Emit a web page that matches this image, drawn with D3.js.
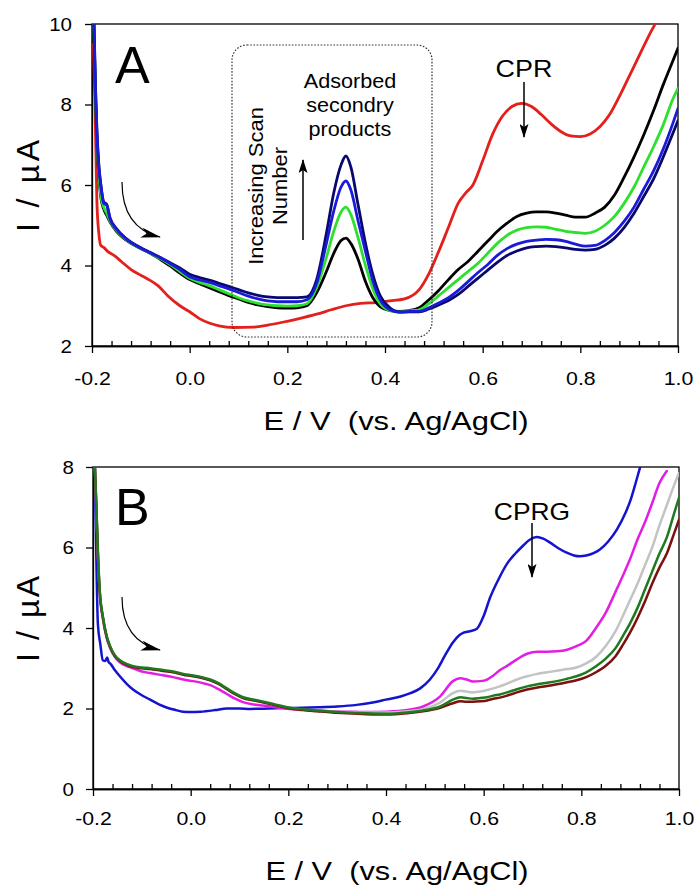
<!DOCTYPE html>
<html lang="en">
<head>
<meta charset="utf-8">
<script src="https://d3js.org/d3.v7.min.js"></script>
<style>
body { margin: 0; background: #fff; }
svg text { font-family: "Liberation Sans", Arial, sans-serif; fill: #000; }
.axis path, .axis line { stroke: #000; stroke-width: 1.3; }
.axis text { font-size: 19px; }
.frame { fill: none; stroke: #000; stroke-width: 1.3; }
.curve { fill: none; stroke-linejoin: round; stroke-linecap: round; }
</style>
</head>
<body>
<div id="chart"></div>
<script>
// ---------- panel A : CPR, repeated scans ----------
var aGroupE = [-0.197, -0.193, -0.19, -0.186, -0.182, -0.176, -0.17, -0.163, -0.15, -0.13, -0.1, -0.08, -0.06, -0.04, -0.02,
  0.0, 0.02, 0.04, 0.06, 0.08, 0.1, 0.12, 0.14, 0.16, 0.18, 0.2, 0.22,
  0.24, 0.26, 0.28, 0.295, 0.31, 0.32, 0.33, 0.345, 0.36, 0.375, 0.39, 0.41, 0.43, 0.45,
  0.47, 0.49, 0.51, 0.53, 0.55, 0.57, 0.59, 0.61, 0.63, 0.65, 0.67, 0.69, 0.71, 0.73, 0.75, 0.77, 0.79, 0.81, 0.83, 0.85, 0.87, 0.89, 0.91, 0.93, 0.95, 0.97, 0.99, 1.0];
var aBlack = [10.3, 8.2, 7.1, 6.2, 5.7, 5.4, 5.25, 5.08, 4.85, 4.63, 4.42, 4.3, 4.15, 3.99, 3.81,
  3.65, 3.55, 3.45, 3.35, 3.25, 3.17, 3.08, 3.02, 2.98, 2.95, 2.94, 2.95,
  3.0, 3.32, 3.85, 4.3, 4.62, 4.68, 4.55, 4.15, 3.6, 3.2, 2.98, 2.88, 2.86, 2.88,
  2.95, 3.15, 3.38, 3.65, 3.9, 4.1, 4.35, 4.6, 4.85, 5.05, 5.22, 5.3, 5.33, 5.33, 5.3, 5.25, 5.2, 5.2, 5.3, 5.45, 5.75, 6.2, 6.7, 7.25, 7.85, 8.5, 9.1, 9.4];
var aGreen = [10.4, 8.3, 7.2, 6.3, 5.75, 5.45, 5.3, 5.1, 4.87, 4.64, 4.42, 4.3, 4.17, 4.02, 3.85,
  3.68, 3.58, 3.5, 3.4, 3.3, 3.2, 3.12, 3.06, 3.02, 3.0, 2.99, 3.0,
  3.05, 3.45, 4.2, 4.85, 5.33, 5.45, 5.27, 4.68, 4.0, 3.42, 3.05, 2.88, 2.85, 2.87,
  2.9, 3.05, 3.25, 3.45, 3.65, 3.85, 4.05, 4.3, 4.55, 4.75, 4.88, 4.94, 4.96, 4.95, 4.9, 4.85, 4.82, 4.8, 4.85, 5.0, 5.22, 5.55, 5.95, 6.45, 6.95, 7.5, 8.15, 8.4];
var aBlue = [10.6, 8.4, 7.3, 6.45, 6.0, 5.55, 5.5, 5.16, 4.9, 4.66, 4.43, 4.31, 4.19, 4.05, 3.9,
  3.72, 3.64, 3.58, 3.5, 3.42, 3.33, 3.24, 3.17, 3.12, 3.1, 3.1, 3.1,
  3.15, 3.55, 4.55, 5.35, 5.95, 6.1, 5.88, 5.1, 4.35, 3.62, 3.15, 2.9, 2.84, 2.86,
  2.86, 2.95, 3.07, 3.2, 3.38, 3.6, 3.82, 4.02, 4.25, 4.42, 4.53, 4.6, 4.63, 4.65, 4.64, 4.6, 4.53, 4.48, 4.5, 4.62, 4.82, 5.1, 5.45, 5.9, 6.35, 6.9, 7.55, 7.9];
var aNavy = [10.6, 8.5, 7.4, 6.5, 6.02, 5.58, 5.52, 5.18, 4.92, 4.67, 4.44, 4.32, 4.2, 4.07, 3.94,
  3.78, 3.7, 3.64, 3.56, 3.48, 3.4, 3.32, 3.26, 3.22, 3.2, 3.2, 3.2,
  3.22, 3.65, 4.8, 5.8, 6.5, 6.72, 6.45, 5.5, 4.55, 3.78, 3.25, 2.95, 2.84, 2.85,
  2.85, 2.92, 3.02, 3.13, 3.28, 3.48, 3.68, 3.88, 4.08, 4.25, 4.36, 4.44, 4.47, 4.48, 4.47, 4.44, 4.4, 4.38, 4.4, 4.5, 4.68, 4.95, 5.3, 5.72, 6.15, 6.7, 7.3, 7.6];
var aRedE = [-0.197, -0.194, -0.19, -0.186, -0.182, -0.176, -0.168, -0.155, -0.14, -0.12, -0.1, -0.085, -0.065, -0.045, -0.02,
  0.0, 0.02, 0.04, 0.06, 0.09, 0.13, 0.16, 0.19, 0.22, 0.26, 0.29, 0.32, 0.35, 0.38, 0.41, 0.44,
  0.47, 0.49, 0.51, 0.53, 0.55, 0.565, 0.58, 0.6, 0.62, 0.64, 0.66, 0.68, 0.70, 0.72, 0.74, 0.76, 0.78, 0.80,
  0.82, 0.84, 0.86, 0.88, 0.90, 0.92, 0.94, 0.96, 0.98];
var aRedI = [9.5, 8.1, 5.6, 4.8, 4.5, 4.45, 4.35, 4.25, 4.1, 3.9, 3.76, 3.66, 3.5, 3.25, 3.0,
  2.85, 2.68, 2.57, 2.5, 2.46, 2.47, 2.52, 2.59, 2.67, 2.79, 2.9, 3.0, 3.06, 3.08, 3.12, 3.17,
  3.4, 3.8, 4.35, 4.95, 5.55, 5.8, 6.0, 6.6, 7.25, 7.7, 7.95, 8.03, 7.95, 7.75, 7.52, 7.33, 7.22, 7.2,
  7.27, 7.45, 7.75, 8.2, 8.7, 9.2, 9.7, 10.15, 10.6];

// ---------- panel B : CPRG ----------
var bBlueE = [-0.197, -0.194, -0.19, -0.185, -0.18, -0.175, -0.171, -0.168, -0.165, -0.155, -0.145, -0.13, -0.118, -0.1, -0.083,
  -0.065, -0.048, -0.03, -0.016, 0.0, 0.02, 0.05, 0.074, 0.1, 0.122, 0.16, 0.19, 0.23, 0.26, 0.3, 0.34, 0.373, 0.4,
  0.43, 0.45, 0.47, 0.49, 0.505, 0.52, 0.537, 0.55, 0.558, 0.572, 0.586, 0.6, 0.613, 0.63, 0.648, 0.665, 0.681,
  0.695, 0.709, 0.722, 0.736, 0.753, 0.77, 0.785, 0.797, 0.81, 0.825, 0.838, 0.855, 0.873, 0.89, 0.9, 0.91, 0.92, 0.93];
var bBlueI = [8.5, 6.3, 4.1, 3.6, 3.2, 3.18, 3.27, 3.15, 3.12, 2.95, 2.8, 2.6, 2.47, 2.33, 2.22,
  2.1, 2.02, 1.96, 1.92, 1.91, 1.92, 1.96, 2.0, 2.0, 1.99, 2.0, 2.01, 2.02, 2.03, 2.05, 2.09, 2.15, 2.22,
  2.3, 2.38, 2.5, 2.72, 2.97, 3.3, 3.64, 3.82, 3.88, 3.92, 3.98, 4.3, 4.75, 5.2, 5.6, 5.85, 6.05,
  6.2, 6.26, 6.22, 6.12, 5.98, 5.87, 5.8, 5.78, 5.8, 5.86, 5.95, 6.15, 6.45, 6.85, 7.15, 7.55, 7.98, 8.4];
var bE = [-0.197, -0.193, -0.19, -0.186, -0.18, -0.172, -0.165, -0.155, -0.145, -0.13, -0.118, -0.1, -0.083, -0.06, -0.036,
  -0.015, 0.005, 0.025, 0.04, 0.057, 0.074, 0.09, 0.107, 0.13, 0.156, 0.18, 0.203, 0.23, 0.259, 0.29, 0.32, 0.36, 0.4, 0.443,
  0.476, 0.511, 0.537, 0.552, 0.565, 0.578, 0.593, 0.607, 0.62, 0.633, 0.648, 0.668, 0.689, 0.71, 0.73, 0.75,
  0.771, 0.79, 0.81, 0.83, 0.85, 0.87, 0.885, 0.9, 0.915, 0.93, 0.945, 0.96, 0.975, 0.99, 1.0];
var bMagenta = [8.2, 6.9, 5.8, 4.85, 4.25, 3.75, 3.5, 3.28, 3.15, 3.05, 3.0, 2.92, 2.88, 2.83, 2.78,
  2.72, 2.68, 2.63, 2.58, 2.48, 2.36, 2.25, 2.16, 2.1, 2.06, 2.02, 1.99, 1.97, 1.95, 1.93, 1.92, 1.91, 1.92, 1.96,
  2.05, 2.3, 2.68, 2.75, 2.72, 2.67, 2.68, 2.72, 2.82, 2.95, 3.06, 3.22, 3.36, 3.41, 3.41, 3.42,
  3.46, 3.55, 3.68, 4.0, 4.38, 4.9, 5.3, 5.72, 6.2, 6.62, 7.1, 7.6, 7.9, null, null];
var bGray = [8.3, 6.98, 5.88, 4.88, 4.29, 3.79, 3.54, 3.31, 3.19, 3.09, 3.04, 3.01, 2.99, 2.95, 2.91,
  2.85, 2.81, 2.76, 2.71, 2.62, 2.49, 2.37, 2.27, 2.21, 2.14, 2.07, 2.01, 1.97, 1.94, 1.92, 1.91, 1.9, 1.9, 1.93,
  1.98, 2.15, 2.38, 2.44, 2.42, 2.4, 2.42, 2.46, 2.5, 2.55, 2.62, 2.72, 2.8, 2.86, 2.9, 2.94,
  2.98, 3.02, 3.12, 3.28, 3.55, 3.92, 4.3, 4.7, 5.1, 5.55, 6.0, 6.55, 7.05, 7.55, 7.85];
var bGreen = [8.3, 7.0, 5.9, 4.9, 4.3, 3.8, 3.55, 3.32, 3.2, 3.1, 3.05, 3.02, 3.0, 2.96, 2.92,
  2.86, 2.82, 2.77, 2.72, 2.63, 2.5, 2.38, 2.28, 2.22, 2.15, 2.08, 2.02, 1.98, 1.95, 1.92, 1.9, 1.88, 1.87, 1.9,
  1.95, 2.05, 2.22, 2.28, 2.26, 2.24, 2.26, 2.28, 2.32, 2.35, 2.4, 2.48, 2.55, 2.6, 2.64, 2.68,
  2.74, 2.8, 2.9, 3.05, 3.24, 3.5, 3.8, 4.12, 4.5, 4.95, 5.4, 5.85, 6.25, 6.85, 7.24];
var bMaroon = [8.3, 6.95, 5.85, 4.85, 4.28, 3.78, 3.53, 3.3, 3.18, 3.08, 3.03, 3.0, 2.98, 2.94, 2.9,
  2.84, 2.8, 2.75, 2.7, 2.61, 2.48, 2.36, 2.26, 2.2, 2.13, 2.06, 2.0, 1.96, 1.93, 1.9, 1.88, 1.86, 1.85, 1.88,
  1.93, 2.02, 2.13, 2.18, 2.17, 2.17, 2.18, 2.2, 2.24, 2.27, 2.32, 2.4, 2.47, 2.52, 2.56, 2.6,
  2.65, 2.7, 2.78, 2.9, 3.06, 3.3, 3.58, 3.89, 4.25, 4.65, 5.1, 5.5, 5.85, 6.35, 6.69];

var xTicks = [-0.2, 0.0, 0.2, 0.4, 0.6, 0.8, 1.0];
var aYTicks = [2, 4, 6, 8, 10];
var bYTicks = [0, 2, 4, 6, 8];

var W = 695, H = 886;
var svg = d3.select("#chart").append("svg").attr("width", W).attr("height", H);
var defs = svg.append("defs");

// arrow heads
defs.append("marker").attr("id", "head")
  .attr("viewBox", "0 0 14 9").attr("refX", 13).attr("refY", 4.5)
  .attr("markerWidth", 14).attr("markerHeight", 9)
  .attr("markerUnits", "userSpaceOnUse").attr("orient", "auto")
  .append("path").attr("d", "M0,0 L14,4.5 L0,9 L3,4.5 Z").attr("fill", "#000");
defs.append("marker").attr("id", "bighead")
  .attr("viewBox", "0 0 20 10").attr("refX", 19).attr("refY", 5)
  .attr("markerWidth", 20).attr("markerHeight", 10)
  .attr("markerUnits", "userSpaceOnUse").attr("orient", "auto")
  .append("path").attr("d", "M0,0 L20,5 L0,10 L5,5 Z").attr("fill", "#000");

function stretch(sel, k) {
  sel.each(function() {
    var w = this.getComputedTextLength();
    d3.select(this).attr("textLength", w * k).attr("lengthAdjust", "spacingAndGlyphs");
  });
}

function drawPanel(p) {
  var x = d3.scaleLinear().domain([-0.2, 1.0]).range(p.xRange);
  var y = d3.scaleLinear().domain(p.yDomain).range(p.yRange);
  var g = svg.append("g");

  defs.append("clipPath").attr("id", p.id + "-clip").append("rect")
    .attr("x", p.xRange[0]).attr("y", p.yRange[1])
    .attr("width", p.xRange[1] - p.xRange[0]).attr("height", p.yRange[0] - p.yRange[1]);

  // axes
  var xa = g.append("g").attr("class", "axis")
    .attr("transform", "translate(0," + p.yRange[0] + ")")
    .call(d3.axisBottom(x).tickValues(xTicks).tickSize(7).tickSizeOuter(0)
      .tickPadding(p.xPad).tickFormat(function(d) { return d.toFixed(1); }));
  var minor = d3.range(0, 31).map(function(i) { return -0.2 + i * 0.04; })
    .filter(function(v, i) { return i % 5 !== 0; });
  g.append("g").attr("class", "axis")
    .attr("transform", "translate(0," + p.yRange[0] + ")")
    .call(d3.axisBottom(x).tickValues(minor).tickSize(-5).tickSizeOuter(0).tickFormat(""));
  var ya = g.append("g").attr("class", "axis")
    .attr("transform", "translate(" + p.xRange[0] + ",0)")
    .call(d3.axisLeft(y).tickValues(p.yTicks).tickSize(7).tickSizeOuter(0).tickPadding(p.yPad));
  g.selectAll(".axis").attr("font-family", null).attr("font-size", null);
  stretch(xa.selectAll("text"), 1.12);
  stretch(ya.selectAll("text"), 1.08);

  g.append("rect").attr("class", "frame")
    .attr("x", p.xRange[0]).attr("y", p.yRange[1])
    .attr("width", p.xRange[1] - p.xRange[0]).attr("height", p.yRange[0] - p.yRange[1]);

  // curves
  var line = d3.line()
    .defined(function(d) { return d[1] != null; })
    .x(function(d) { return x(d[0]); })
    .y(function(d) { return y(d[1]); })
    .curve(d3.curveMonotoneX);
  var plot = g.append("g").attr("clip-path", "url(#" + p.id + "-clip)");
  p.series.forEach(function(s) {
    var pts = s.E.map(function(e, i) { return [e, s.I[i]]; });
    plot.append("path").datum(pts).attr("class", "curve")
      .attr("stroke", s.color).attr("stroke-width", p.lw).attr("d", line);
  });

  // axis titles
  g.append("text").attr("x", p.xTitle[0]).attr("y", p.xTitle[1])
    .attr("text-anchor", "middle").style("font-size", "25px")
    .attr("xml:space", "preserve").text("E / V  (vs. Ag/AgCl)")
    .attr("textLength", p.xTitleLen).attr("lengthAdjust", "spacingAndGlyphs");
  g.append("text")
    .attr("transform", "translate(" + p.yTitle[0] + "," + p.yTitle[1] + ") rotate(-90)")
    .attr("text-anchor", "middle").style("font-size", "32px")
    .attr("textLength", p.yTitleLen).attr("lengthAdjust", "spacing")
    .text("I / \u00B5A");

  // panel letter
  g.append("text").attr("x", 115).attr("y", p.letterY)
    .style("font-size", "52px").text(p.letter);

  return { x: x, y: y, g: g };
}

var A = drawPanel({
  id: "pa", letter: "A", letterY: 83,
  xRange: [92, 678], yDomain: [2, 10], yRange: [346, 24], yTicks: aYTicks,
  xPad: 19, yPad: 13, lw: 2.8,
  xTitle: [396, 430], xTitleLen: 265, yTitle: [39, 186], yTitleLen: 92,
  series: [
    { E: aRedE, I: aRedI, color: "#e3201b" },
    { E: aGroupE, I: aBlack, color: "#000000" },
    { E: aGroupE, I: aGreen, color: "#2ee02e" },
    { E: aGroupE, I: aNavy, color: "#08086e" },
    { E: aGroupE, I: aBlue, color: "#1a1ad8" }
  ]
});

var B = drawPanel({
  id: "pb", letter: "B", letterY: 525,
  xRange: [93, 679], yDomain: [0, 8], yRange: [789, 467], yTicks: bYTicks,
  xPad: 16, yPad: 12, lw: 2.5,
  xTitle: [397, 880], xTitleLen: 263, yTitle: [39, 619], yTitleLen: 86,
  series: [
    { E: bBlueE, I: bBlueI, color: "#1414d0" },
    { E: bE, I: bMagenta, color: "#e31ee3" },
    { E: bE, I: bGray, color: "#c3c3c3" },
    { E: bE, I: bMaroon, color: "#7c0f0f" },
    { E: bE, I: bGreen, color: "#1f7a1f" }
  ]
});

// ---------- annotations, panel A ----------
var ann = svg.append("g");
ann.append("rect").attr("x", 232).attr("y", 45).attr("width", 200).attr("height", 292)
  .attr("rx", 15).attr("ry", 15)
  .attr("fill", "none").attr("stroke", "#333").attr("stroke-width", 1.2)
  .attr("stroke-dasharray", "1.6,1.6");

var adsorbed = ["Adsorbed", "secondry", "products"];
ann.selectAll("text.ads").data(adsorbed).enter().append("text")
  .attr("class", "ads").attr("x", 350).attr("y", function(d, i) { return 88 + i * 24; })
  .attr("text-anchor", "middle").style("font-size", "20px").text(function(d) { return d; });
stretch(ann.selectAll("text.ads"), 1.08);

var scanLines = ["Increasing Scan", "Number"];
ann.selectAll("text.scan").data(scanLines).enter().append("text")
  .attr("class", "scan")
  .attr("transform", function(d, i) { return "translate(" + (263 + i * 24) + ",186) rotate(-90)"; })
  .attr("text-anchor", "middle").style("font-size", "20px").text(function(d) { return d; });
stretch(ann.selectAll("text.scan"), 1.1);

ann.append("line").attr("x1", 303).attr("y1", 240).attr("x2", 303).attr("y2", 160)
  .attr("stroke", "#000").attr("stroke-width", 1.5).attr("marker-end", "url(#head)");

var cpr = ann.append("text").attr("x", 524).attr("y", 77).attr("text-anchor", "middle")
  .style("font-size", "24px").text("CPR");
stretch(cpr, 1.12);
ann.append("line").attr("x1", 524).attr("y1", 82).attr("x2", 524).attr("y2", 137)
  .attr("stroke", "#000").attr("stroke-width", 1.5).attr("marker-end", "url(#head)");

ann.append("path").attr("d", "M122,182 Q122,228 160,237")
  .attr("fill", "none").attr("stroke", "#000").attr("stroke-width", 1.2)
  .attr("marker-end", "url(#bighead)");

// ---------- annotations, panel B ----------
var cprg = ann.append("text").attr("x", 532).attr("y", 520).attr("text-anchor", "middle")
  .style("font-size", "24px").text("CPRG");
stretch(cprg, 1.1);
ann.append("line").attr("x1", 532).attr("y1", 523).attr("x2", 532).attr("y2", 577)
  .attr("stroke", "#000").attr("stroke-width", 1.5).attr("marker-end", "url(#head)");

ann.append("path").attr("d", "M122,597 Q122,641 160,650")
  .attr("fill", "none").attr("stroke", "#000").attr("stroke-width", 1.2)
  .attr("marker-end", "url(#bighead)");
</script>
</body>
</html>
